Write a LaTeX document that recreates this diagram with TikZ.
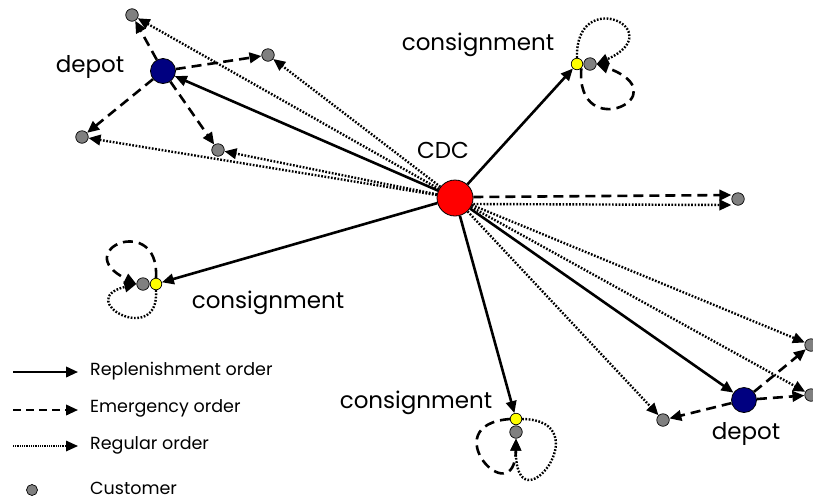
\documentclass[tikz,border=0pt]{standalone}
\usepackage{fontspec}
\setmainfont{Poppins}
\usetikzlibrary{arrows.meta}
\definecolor{custgray}{RGB}{128,128,128}
\definecolor{cdcred}{RGB}{255,0,0}
\definecolor{depotblue}{RGB}{0,0,128}
\definecolor{consyellow}{RGB}{255,255,0}
\begin{document}
\begin{tikzpicture}[x=1pt,y=-1pt,
  tip/.style={-{Triangle[length=12pt,width=10.5pt]}},
  repl/.style={tip, line width=2.6pt},
  emerg/.style={tip, line width=2.6pt, dash pattern=on 10pt off 6pt},
  regular/.style={tip, line width=2.4pt, dash pattern=on 1.7pt off 1.6pt},
  cust/.style={circle, draw=black, line width=0.7pt, fill=custgray, minimum size=12.5pt, inner sep=0pt},
  cons/.style={circle, draw=black, line width=0.7pt, fill=consyellow, minimum size=11.5pt, inner sep=0pt},
  depot/.style={circle, draw=black, line width=0.8pt, fill=depotblue, minimum size=25pt, inner sep=0pt},
  cdc/.style={circle, draw=black, line width=0.8pt, fill=cdcred, minimum size=36pt, inner sep=0pt},
  lab/.style={font=\fontsize{23}{25}\selectfont, inner sep=0pt},
  legtext/.style={font=\fontsize{17.5}{19}\selectfont, anchor=west, inner sep=0pt}
]
\useasboundingbox (0,0) rectangle (813,499);

% central distribution centre
\node[cdc] (cdc) at (455,198) {};
\node[lab] (cdclab) at (443,150) {CDC};

% upper-left depot and its customers
\node[depot] (d1) at (163,71) {};
\node[lab] (d1lab) at (90,67) {depot};
\node[cust] (c1) at (132,15) {};
\node[cust] (c2) at (268,55) {};
\node[cust] (c3) at (82,137) {};
\node[cust] (c4) at (218,150) {};

% lower-right depot and its customers
\node[depot] (d2) at (744,400) {};
\node[lab] (d2lab) at (746,434) {depot};
\node[cust] (c6) at (811,345) {};
\node[cust] (c7) at (811,395) {};
\node[cust] (c8) at (663,420) {};

% customer served directly
\node[cust] (c5) at (738,199) {};

% consignment stocks with their customers
\node[cust] (g1) at (590,64) {};
\node[cons] (y1) at (577,64) {};
\node[lab] (y1lab) at (478,45) {consignment};

\node[cust] (g2) at (143,284) {};
\node[cons] (y2) at (156,284) {};
\node[lab] (y2lab) at (268,303) {consignment};

\node[cust] (g3) at (516,432) {};
\node[cons] (y3) at (516,419) {};
\node[lab] (y3lab) at (416,403) {consignment};

% replenishment orders
\draw[repl] (cdc) -- (d1);
\draw[repl] (cdc) -- (d2);
\draw[repl] (cdc) -- (y1);
\draw[repl] (cdc) -- (y2);
\draw[repl] (cdc) -- (y3);

% emergency orders
\draw[emerg] (d1) -- (c1);
\draw[emerg] (d1) -- (c2);
\draw[emerg] (d1) -- (c3);
\draw[emerg] (d1) -- (c4);
\draw[emerg] (d2) -- (c6);
\draw[emerg] (d2) -- (c7);
\draw[emerg] (d2) -- (c8);
\draw[emerg] ([yshift=1pt]cdc.east) -- ([yshift=4pt]c5.west);

% regular orders
\draw[regular] (cdc) -- (c1);
\draw[regular] (cdc) -- (c2);
\draw[regular] (cdc) -- (c3);
\draw[regular] (cdc) -- (c4);
\draw[regular] (cdc) -- (c6);
\draw[regular] (cdc) -- (c7);
\draw[regular] (cdc) -- (c8);
\draw[regular] ([yshift=-6pt]cdc.east) -- ([yshift=-6pt]c5.west);

% loops at the consignment stocks
\draw[regular] (y1.north) .. controls (575,-15) and (672,30) .. (g1.east);
\draw[emerg] (y1.south east) .. controls (575,145) and (682,95) .. (g1.east);

\draw[emerg] (y2.north) .. controls (160,212) and (68,250) .. (g2.west);
\draw[regular] (y2.south) .. controls (160,348) and (72,300) .. (g2.west);

\draw[emerg] (y3.west) .. controls (432,425) and (515,515) .. (g3.south);
\draw[regular] (y3.east) .. controls (602,420) and (515,532) .. (g3.south);

% legend
\coordinate (la1) at (13,372); \coordinate (lb1) at (78,372);
\coordinate (la2) at (13,410); \coordinate (lb2) at (78,410);
\coordinate (la3) at (13,446); \coordinate (lb3) at (78,446);
\draw[repl, line width=2.2pt] (la1) -- (lb1);
\draw[emerg, line width=2.2pt, dash pattern=on 8pt off 5pt] (la2) -- (lb2);
\draw[regular, line width=1.6pt, dash pattern=on 1pt off 0.8pt] (la3) -- (lb3);
\node[cust, minimum size=11pt] (lc) at (32,490) {};
\node[legtext] (lt1) at (90,371) {Replenishment order};
\node[legtext] (lt2) at (90,408) {Emergency order};
\node[legtext] (lt3) at (90,445) {Regular order};
\node[legtext] (lt4) at (90,488) {Customer};
\end{tikzpicture}
\end{document}
